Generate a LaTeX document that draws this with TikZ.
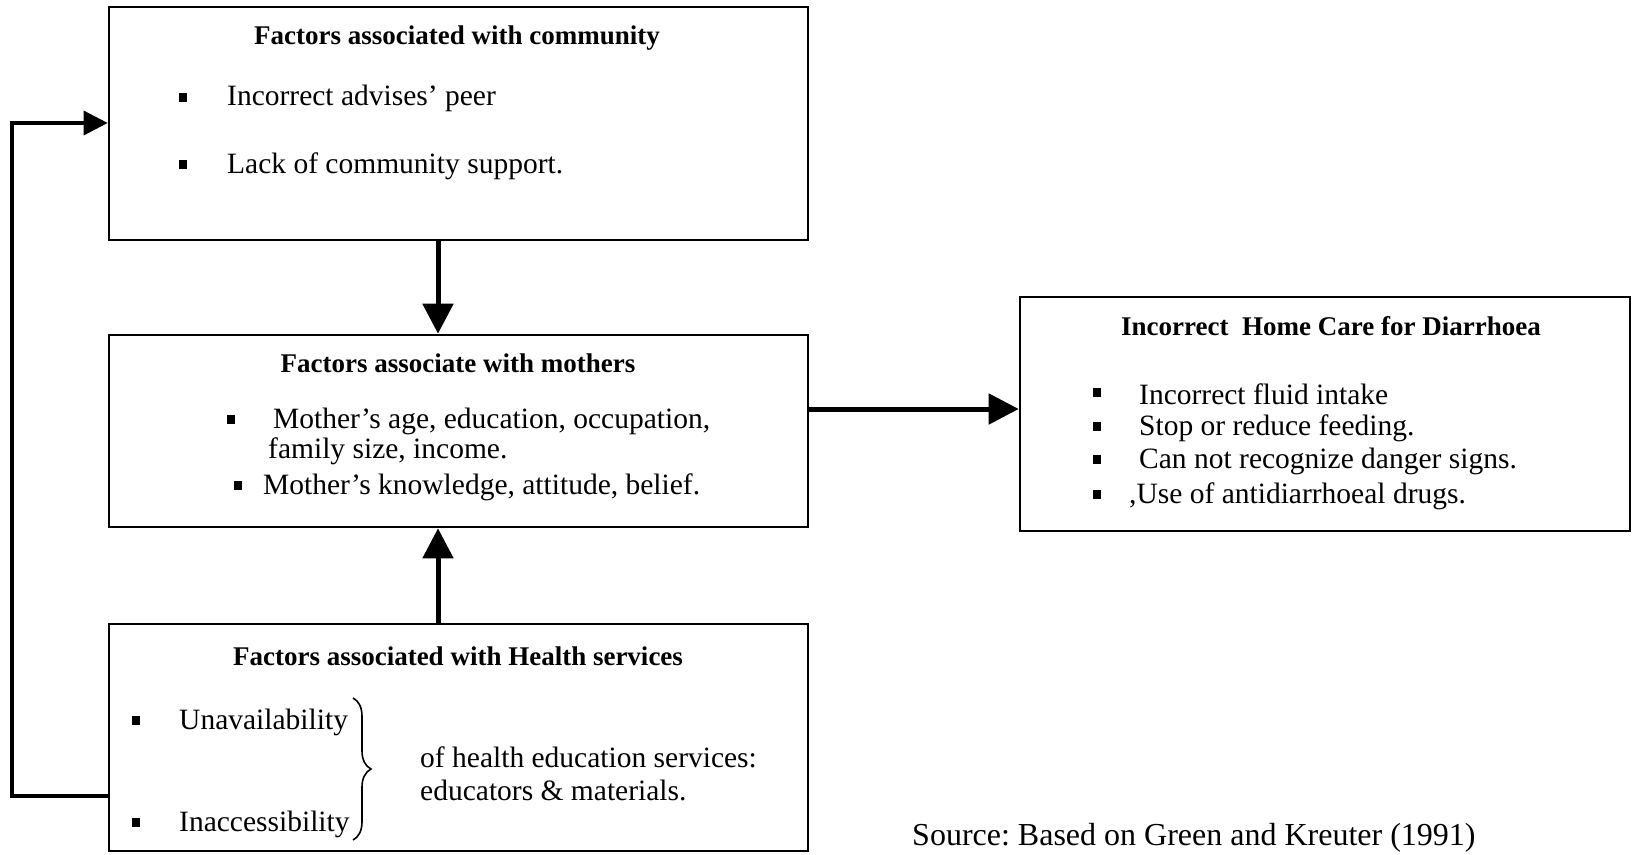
\documentclass[tikz,border=0pt]{standalone}
\usepackage{fontspec}
\setmainfont{Liberation Serif}
\usetikzlibrary{arrows.meta,decorations.pathreplacing}
\frenchspacing
\tikzset{
  box/.style={draw=black, line width=2.6pt, inner sep=0pt},
  ttl/.style={font=\fontsize{27}{31}\selectfont\bfseries, inner sep=0pt},
  txt/.style={font=\fontsize{29.5}{34}\selectfont, inner sep=0pt, anchor=west},
  bul/.style={fill=black, minimum width=7.5pt, minimum height=9pt, inner sep=0pt},
  arr/.style={line width=5pt, -{Triangle[length=30pt,width=30pt]}},
  fb/.style={line width=3.5pt, -{Triangle[length=24pt,width=24pt]}},
}
\begin{document}
\begin{tikzpicture}[x=1pt,y=-1pt]
\clip (0,0) rectangle (1632,854);
\fill[white] (0,0) rectangle (1632,854);
% boxes
\node[box, minimum width=699pt, minimum height=233pt] (comm) at (458.5,123.5) {};
\node[box, minimum width=699pt, minimum height=192pt] (moth) at (458.5,431) {};
\node[box, minimum width=699pt, minimum height=227pt] (health) at (458.5,737.5) {};
\node[box, minimum width=610pt, minimum height=234pt] (home) at (1325,414) {};
% community
\node[ttl] (t1) at (457,38) {Factors associated with community};
\node[bul] (b11) at (183,97) {};
\node[txt] (l11) at (227,98) {Incorrect advises’ peer};
\node[bul] (b12) at (183,164) {};
\node[txt] (l12) at (227,166) {Lack of community support.};
% mothers
\node[ttl] (t2) at (458,363) {Factors associate with mothers};
\node[bul] (b21) at (231,419) {};
\node[txt] (l21) at (273,421) {Mother’s age, education, occupation,};
\node[txt] (l22) at (268,451) {family size, income.};
\node[bul] (b23) at (238,485) {};
\node[txt] (l23) at (263,487) {Mother’s knowledge, attitude, belief.};
% health
\node[ttl] (t3) at (458,656) {Factors associated with Health services};
\node[bul] (b31) at (136,720) {};
\node[txt] (l31) at (179,722) {Unavailability};
\node[bul] (b32) at (136,822) {};
\node[txt] (l32) at (179,824) {Inaccessibility};
\coordinate (br1) at (353,698);
\coordinate (br2) at (353,840);
\draw[line width=1.6pt, decorate, decoration={brace, amplitude=18pt}] (br1) -- (br2);
\node[txt] (l33) at (420,757) {of health education services:};
\node[txt] (l34) at (420,790) {educators \& materials.};
% home care
\node[ttl] (t4) at (1331,326) {Incorrect\ \ Home Care for Diarrhoea};
\node[bul] (b41) at (1097,392) {};
\node[txt] (l41) at (1139,394) {Incorrect fluid intake};
\node[bul] (b42) at (1097,426) {};
\node[txt] (l42) at (1139,428) {Stop or reduce feeding.};
\node[bul] (b43) at (1097,459) {};
\node[txt] (l43) at (1139,461) {Can not recognize danger signs.};
\node[bul] (b44) at (1097,494) {};
\node[txt] (l44) at (1129,496) {,Use of antidiarrhoeal drugs.};
% source
\node[font=\fontsize{32}{36}\selectfont, inner sep=0pt, anchor=base west] (src) at (912,845) {Source: Based on Green and Kreuter (1991)};
% connectors
\coordinate (ax) at (438,0);
\coordinate (ay) at (0,409);
\coordinate (fy1) at (0,796);
\coordinate (fy2) at (0,123);
\coordinate (fb1) at (12,796);
\coordinate (fb2) at (12,123);
\draw[arr] (comm.south -| ax) -- (moth.north -| ax);
\draw[arr] (health.north -| ax) -- (moth.south -| ax);
\draw[arr] (moth.east |- ay) -- (home.west |- ay);
\draw[fb] (health.west |- fy1) -- (fb1) -- (fb2) -- (comm.west |- fy2);
\end{tikzpicture}
\end{document}
